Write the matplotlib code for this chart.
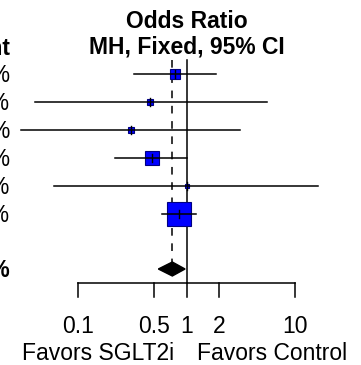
import numpy as np
import matplotlib.pyplot as plt
import matplotlib.transforms as mtransforms
from matplotlib.patches import Polygon

plt.rcParams['font.family'] = ['Liberation Sans', 'DejaVu Sans']

# study rows (weight %, odds ratio, 95% CI)
weights = [10.9, 2.7, 3.9, 18.5, 1.0, 63.0]
odds_ratio = [0.78, 0.46, 0.31, 0.48, 1.00, 0.85]
ci_lower = [0.33, 0.040, 0.030, 0.22, 0.060, 0.59]
ci_upper = [1.87, 5.48, 3.11, 1.00, 16.4, 1.22]

# pooled MH fixed effect
pooled_or = 0.74
pooled_lower = 0.55
pooled_upper = 0.97
pooled_weight = 100.0

tick_values = [0.1, 0.5, 1, 2, 10]
tick_labels = ['0.1', '0.5', '1', '2', '10']

W, H = 361, 365
X_REF, PX_DECADE = 186.5, 108.5     # pixel of OR=1 and pixels per decade
ROW0, ROW_STEP = 74, 28
FS = 16.5

fig = plt.figure(figsize=(W / 100, H / 100), dpi=100)
ax = fig.add_axes([0, 0, 1, 1])
ax.set_xscale('log')
ax.set_xlim(10 ** (-X_REF / PX_DECADE), 10 ** ((W - X_REF) / PX_DECADE))
ax.set_ylim(H, 0)
ax.axis('off')

left_tr = mtransforms.blended_transform_factory(ax.transAxes, ax.transData)

rows_y = [ROW0 + ROW_STEP * i for i in range(len(odds_ratio))]
pooled_y = ROW0 + ROW_STEP * 7 - 1
axis_y = 283

# reference lines
ax.plot([1, 1], [60, axis_y], color='black', lw=1.1, zorder=1)
ax.plot([pooled_or, pooled_or], [60, pooled_y - 7], color='black', lw=1.1,
        linestyle=(0, (5, 5)), zorder=1)

max_w = max(weights)
for y, w, est, lo, hi in zip(rows_y, weights, odds_ratio, ci_lower, ci_upper):
    size = 17.5 * np.sqrt(w / max_w)
    ax.plot([est], [y], marker='s', markersize=size, markerfacecolor='#0000ff',
            markeredgecolor='#000080', markeredgewidth=0.8, zorder=2)
    ax.plot([lo, hi], [y, y], color='black', lw=1.1, zorder=3)
    ax.plot([est, est], [y - 4, y + 4], color='black', lw=1.0, zorder=3)
    ax.text(10 / W, y + 8, f'{w:.1f}%', transform=left_tr, ha='right',
            va='baseline', fontsize=FS)

# pooled diamond
diamond = Polygon([[pooled_lower, pooled_y], [pooled_or, pooled_y - 7],
                   [pooled_upper, pooled_y], [pooled_or, pooled_y + 7]],
                  closed=True, facecolor='black', edgecolor='black', zorder=3)
ax.add_patch(diamond)
ax.text(10 / W, pooled_y + 8, f'{pooled_weight:.1f}%', transform=left_tr,
        ha='right', va='baseline', fontsize=FS, fontweight='bold')

# x axis drawn by hand, forest-plot style
ax.plot([tick_values[0], tick_values[-1]], [axis_y, axis_y], color='black', lw=1.1)
for v, lab in zip(tick_values, tick_labels):
    ax.plot([v, v], [axis_y, axis_y + 14], color='black', lw=1.1)
    ax.text(v, 333, lab, ha='center', va='baseline', fontsize=FS)

ax.text(0.1 * 10 ** (20 / PX_DECADE), 360, 'Favors SGLT2i', ha='center',
        va='baseline', fontsize=FS)
ax.text(10 ** ((272 - X_REF) / PX_DECADE), 360, 'Favors Control', ha='center',
        va='baseline', fontsize=FS)

# headers
ax.text(1, 28, 'Odds Ratio', ha='center', va='baseline', fontsize=FS,
        fontweight='bold')
ax.text(1, 53.5, 'MH, Fixed, 95% CI', ha='center', va='baseline', fontsize=FS,
        fontweight='bold')
ax.text(10.5 / W, 54.5, 'Weight', transform=left_tr, ha='right', va='baseline',
        fontsize=FS, fontweight='bold')

fig.savefig('out.png', dpi=100)
